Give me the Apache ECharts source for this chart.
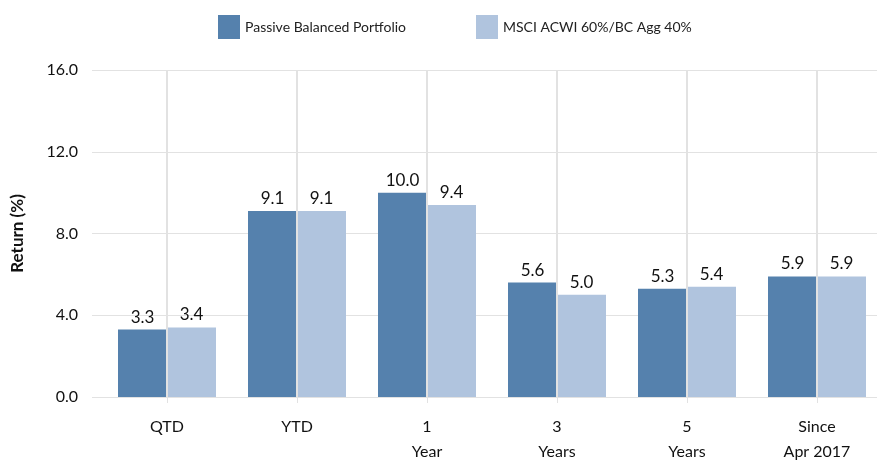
<!DOCTYPE html>
<html>
<head>
<meta charset="utf-8">
<script src="https://cdn.jsdelivr.net/npm/echarts@6/dist/echarts.min.js"></script>
<style>
  html, body { margin: 0; padding: 0; background: #fff; }
  #chart { width: 877px; height: 461px; }
</style>
</head>
<body>
<div id="chart"></div>
<script>
    var categories = ['QTD', 'YTD', '1\nYear', '3\nYears', '5\nYears', 'Since\nApr 2017']
    var portfolio = [3.3, 9.1, 10.0, 5.6, 5.3, 5.9]
    var benchmark = [3.4, 9.1, 9.4, 5.0, 5.4, 5.9]
    var seriesNames = ['Passive Balanced Portfolio', 'MSCI ACWI 60%/BC Agg 40%']
    var yTicks = { min: 0, max: 16, interval: 4 }

    var font = 'Lato, "Open Sans", sans-serif'
    var gridColor = '#e2e2e2'

    var barLabel = {
        show: true,
        position: 'top',
        distance: 4,
        color: '#111',
        fontFamily: font,
        fontSize: 17,
        formatter: function (p) { return p.value.toFixed(1) }
    }

    var chart = echarts.init(document.getElementById('chart'))
    chart.setOption({
        animation: false,
        textStyle: { fontFamily: font },
        legend: {
            top: 10,
            left: 213,
            itemWidth: 22,
            itemHeight: 24,
            itemGap: 70,
            icon: 'rect',
            textStyle: { fontSize: 14, color: '#222', fontFamily: font },
            data: seriesNames
        },
        grid: {
            left: 102,
            top: 70,
            width: 780,
            bottom: 64,
            containLabel: false,
            outerBoundsMode: 'none'
        },
        xAxis: {
            type: 'category',
            data: categories,
            axisLine: { show: true, lineStyle: { color: gridColor, width: 1 } },
            axisTick: { show: true, alignWithLabel: true, length: 6, lineStyle: { color: gridColor } },
            axisLabel: { color: '#111', fontSize: 16, margin: 17, lineHeight: 25, fontFamily: font },
            splitLine: { show: false }
        },
        yAxis: {
            type: 'value',
            min: yTicks.min,
            max: yTicks.max,
            interval: yTicks.interval,
            name: 'Return (%)',
            nameLocation: 'middle',
            nameGap: 76,
            nameTextStyle: { fontSize: 17, fontWeight: 'bold', color: '#111', fontFamily: font },
            axisLine: { show: false },
            axisTick: { show: true, length: 10, lineStyle: { color: gridColor } },
            axisLabel: { color: '#111', fontSize: 16, margin: 24, fontFamily: font,
                formatter: function (v) { return v.toFixed(1) } },
            splitLine: { show: true, lineStyle: { color: gridColor, width: 1 } }
        },
        series: [
            {
                name: seriesNames[0],
                type: 'bar',
                data: portfolio,
                barWidth: 49,
                barGap: '0%',
                itemStyle: { color: '#5581ad' },
                label: barLabel,
                z: 3
            },
            {
                name: seriesNames[1],
                type: 'bar',
                data: benchmark,
                barWidth: 49,
                barGap: '0%',
                itemStyle: { color: '#b0c4de' },
                label: barLabel,
                z: 3
            },
            {
                // vertical guide lines at category centres, behind the bars
                type: 'line',
                data: [],
                z: 1,
                silent: true,
                markLine: {
                    silent: true,
                    symbol: 'none',
                    label: { show: false },
                    lineStyle: { color: gridColor, type: 'solid', width: 2, opacity: 1 },
                    data: categories.map(function (c) { return { xAxis: c } })
                }
            }
        ]
    })
</script>
</body>
</html>
